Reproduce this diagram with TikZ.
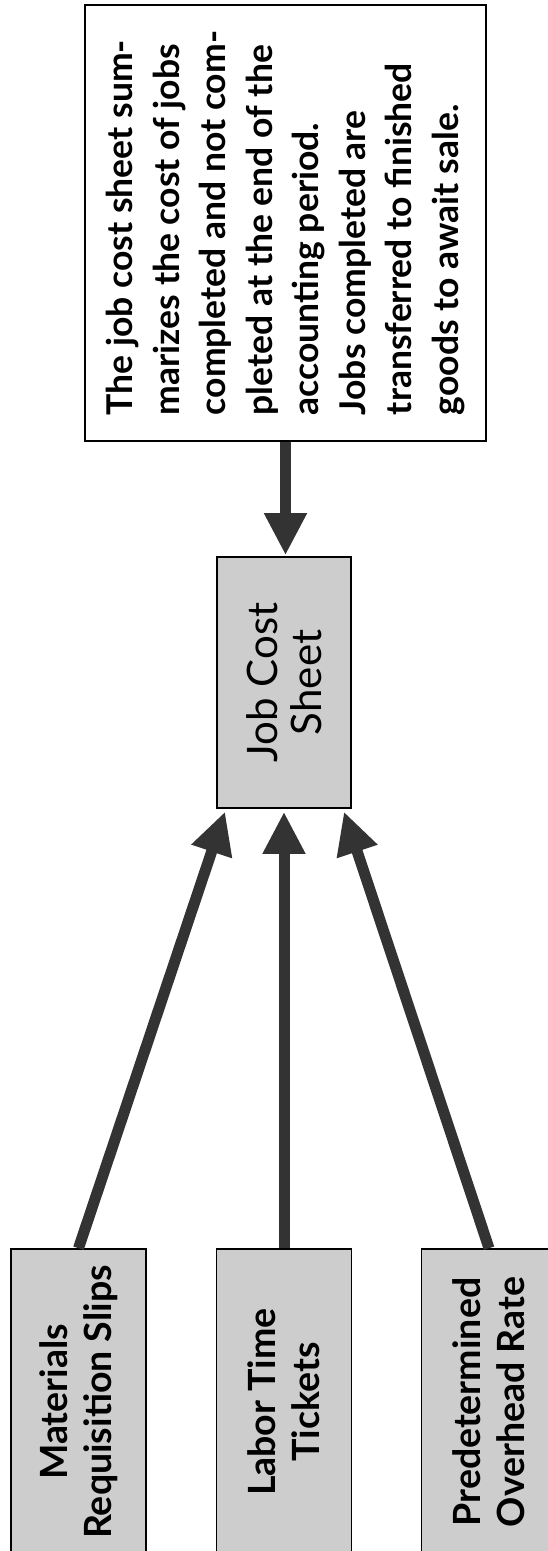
\documentclass[tikz,border=0pt]{standalone}
\usepackage{fontspec}
\setmainfont{Lato}
\usepackage{xcolor}
\usetikzlibrary{positioning,arrows.meta,calc}
\definecolor{boxgray}{RGB}{205,205,205}
\definecolor{arrowgray}{RGB}{51,51,51}
\tikzset{
  note-node/.style={draw=black, line width=1.6pt, fill=white, rotate=90,
    minimum width=436pt, minimum height=401pt, align=left, inner sep=4pt,
    font=\fontsize{35.5}{46.5}\selectfont\bfseries},
  sheet-node/.style={draw=black, line width=1.6pt, fill=boxgray, rotate=90,
    minimum width=251pt, minimum height=134pt, align=center, inner sep=4pt,
    font=\fontsize{42}{44}\selectfont},
  source-node/.style={draw=black, line width=1.6pt, fill=boxgray, rotate=90,
    minimum width=306pt, minimum height=135pt, align=center, inner sep=4pt,
    font=\fontsize{37.5}{44}\selectfont\bfseries},
  flow-arrow/.style={-{Triangle[length=42pt, width=40pt]}, line width=11pt,
    draw=arrowgray, shorten >=3pt}
}
\begin{document}
\begin{tikzpicture}[x=1pt, y=-1pt]
\useasboundingbox (0,0) rectangle (547,1551);
% Summary note at the top
\node[note-node] (summary) at (285.5,223)
  {The job cost sheet sum-\\
   marizes the cost of jobs\\
   completed and not com-\\
   pleted at the end of the\\
   accounting period.\\
   Jobs completed are\\
   transferred to finished\\
   goods to await sale.};

% Central sheet
\node[sheet-node] (jobcost) at (284,682.5) {Job Cost\\Sheet};

% Three source documents
\node[source-node] (materials) at (78.5,1402) {Materials\\Requisition Slips};
\node[source-node] (labor) at (284,1402) {Labor Time\\Tickets};
\node[source-node] (overhead) at (489,1402) {Predetermined\\Overhead Rate};

% Connecting arrows
\draw[flow-arrow, shorten >=1pt] (summary.west) -- (summary.west |- jobcost.east);
\draw[flow-arrow] (materials.east) -- ([xshift=-58pt]jobcost.west);
\draw[flow-arrow] (labor.east) -- (jobcost.west);
\draw[flow-arrow] (overhead.east) -- ([xshift=59pt]jobcost.west);
\end{tikzpicture}
\end{document}
